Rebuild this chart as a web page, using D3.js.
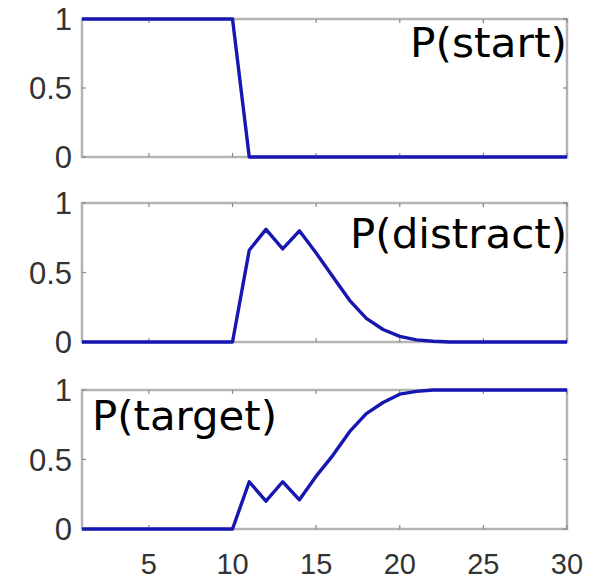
<!DOCTYPE html>
<html>
<head>
<meta charset="utf-8">
<script src="https://cdn.jsdelivr.net/npm/d3@7"></script>
<style>
  html, body { margin: 0; padding: 0; background: #fff; }
  svg { display: block; }
</style>
</head>
<body>
<svg id="chart" width="599" height="582"></svg>
<script>
// Time steps 1..30
const steps = d3.range(1, 31);

// Probability of each state over time
const pStart = [1,1,1,1,1,1,1,1,1,1, 0,0,0,0,0,0,0,0,0,0, 0,0,0,0,0,0,0,0,0,0];
const pDistract = [0,0,0,0,0,0,0,0,0,0, 0.66,0.81,0.67,0.80,0.64,0.47,0.30,0.17,0.09,0.04, 0.015,0.005,0,0,0,0,0,0,0,0];
const pTarget = [0,0,0,0,0,0,0,0,0,0, 0.34,0.20,0.34,0.21,0.38,0.53,0.70,0.83,0.91,0.97, 0.99,1,1,1,1,1,1,1,1,1];

const panelNames = ["P(start)", "P(distract)", "P(target)"];
const xTicks = [5, 10, 15, 20, 25, 30];
const yTicks = [0, 0.5, 1];

const svg = d3.select("#chart");
const left = 82, right = 567;
const panelTops = [19, 203, 390];
const panelBottoms = [157, 342, 529];
const series = [pStart, pDistract, pTarget];
const labelPos = [
  { x: 410, y: 57, w: 157 },
  { x: 350, y: 248, w: 217 },
  { x: 92, y: 430, w: 185 }
];

const x = d3.scaleLinear().domain([1, 30]).range([left, right]);

const frameColor = "#b4b4b4";
const lineColor = "#1616b0";

series.forEach((vals, i) => {
  const y = d3.scaleLinear().domain([0, 1]).range([panelBottoms[i], panelTops[i]]);
  const g = svg.append("g");

  // frame
  g.append("rect")
    .attr("x", left).attr("y", panelTops[i])
    .attr("width", right - left).attr("height", panelBottoms[i] - panelTops[i])
    .attr("fill", "#fff").attr("stroke", frameColor).attr("stroke-width", 2.5);

  // inward ticks
  xTicks.forEach(t => {
    g.append("line").attr("x1", x(t)).attr("x2", x(t))
      .attr("y1", panelBottoms[i]).attr("y2", panelBottoms[i] - 4)
      .attr("stroke", "#888").attr("stroke-width", 1.2);
    g.append("line").attr("x1", x(t)).attr("x2", x(t))
      .attr("y1", panelTops[i]).attr("y2", panelTops[i] + 4)
      .attr("stroke", "#888").attr("stroke-width", 1.2);
  });
  yTicks.forEach(t => {
    g.append("line").attr("x1", left).attr("x2", left + 4)
      .attr("y1", y(t)).attr("y2", y(t))
      .attr("stroke", "#888").attr("stroke-width", 1.2);
    g.append("line").attr("x1", right).attr("x2", right - 4)
      .attr("y1", y(t)).attr("y2", y(t))
      .attr("stroke", "#888").attr("stroke-width", 1.2);
  });

  // y tick labels
  g.selectAll("text.ytick").data(yTicks).join("text")
    .attr("class", "ytick")
    .attr("x", 72).attr("y", d => y(d))
    .attr("dy", "0.36em")
    .attr("text-anchor", "end")
    .attr("font-family", "Liberation Sans, Arial, sans-serif")
    .attr("font-size", 31)
    .attr("fill", "#333")
    .text(d => d3.format("~g")(d));

  // series line
  g.append("path")
    .datum(steps.map((s, k) => [s, vals[k]]))
    .attr("fill", "none")
    .attr("stroke", lineColor)
    .attr("stroke-width", 3.4)
    .attr("stroke-linejoin", "round")
    .attr("d", d3.line().x(d => x(d[0])).y(d => y(d[1])));

  // panel label
  g.append("text")
    .attr("x", labelPos[i].x).attr("y", labelPos[i].y)
    .attr("font-family", "DejaVu Sans, sans-serif")
    .attr("font-size", 40)
    .attr("textLength", labelPos[i].w)
    .attr("lengthAdjust", "spacingAndGlyphs")
    .attr("fill", "#000")
    .text(panelNames[i]);
});

// x tick labels under the bottom panel
svg.selectAll("text.xtick").data(xTicks).join("text")
  .attr("class", "xtick")
  .attr("x", d => x(d)).attr("y", 574)
  .attr("text-anchor", "middle")
  .attr("font-family", "Liberation Sans, Arial, sans-serif")
  .attr("font-size", 29)
  .attr("fill", "#333")
  .text(d => d);
</script>
</body>
</html>
